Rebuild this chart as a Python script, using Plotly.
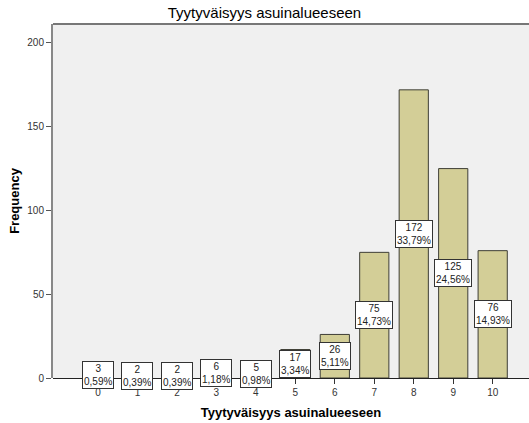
import plotly.graph_objects as go

categories = [0, 1, 2, 3, 4, 5, 6, 7, 8, 9, 10]
counts = [3, 2, 2, 6, 5, 17, 26, 75, 172, 125, 76]
percents = ["0,59%", "0,39%", "0,39%", "1,18%", "0,98%", "3,34%", "5,11%",
            "14,73%", "33,79%", "24,56%", "14,93%"]

fig = go.Figure()

fig.add_trace(go.Bar(
    x=categories,
    y=counts,
    width=0.74,
    marker=dict(color="#D3CE97", line=dict(color="#3e3e36", width=1)),
    hoverinfo="x+y",
))

for c, n, p in zip(categories, counts, percents):
    fig.add_annotation(
        x=c, y=n / 2, text=f"{n}<br>{p}", showarrow=False,
        font=dict(size=10, color="#222222", family="Liberation Sans, Arial"),
        bgcolor="white", bordercolor="#333333", borderwidth=1, borderpad=1,
    )

# top frame line of the plot area
fig.add_shape(type="line", xref="paper", yref="paper", x0=0, x1=1, y0=1, y1=1,
              line=dict(color="#777777", width=2))

fig.update_layout(
    width=529,
    height=423,
    margin=dict(l=53, r=0, t=24, b=45),
    paper_bgcolor="white",
    plot_bgcolor="#F0F0F0",
    showlegend=False,
    font=dict(family="Liberation Sans, Arial", color="#222222"),
    title=dict(text="Tyytyväisyys asuinalueeseen", x=0.5, xanchor="center",
               y=0.982, yanchor="top", font=dict(size=15, color="black")),
    xaxis=dict(
        range=[-1.14, 10.92], tickvals=categories, ticks="outside", ticklen=5,
        tickcolor="#333333", showgrid=False, zeroline=False, showline=False,
        tickfont=dict(size=10, color="#333333"),
        title=dict(text="<b>Tyytyväisyys asuinalueeseen</b>", standoff=10,
                   font=dict(size=13, color="black")),
    ),
    yaxis=dict(
        range=[0, 211.3], tickvals=[0, 50, 100, 150, 200], ticks="outside",
        ticklen=5, tickcolor="#555555", showgrid=False,
        showline=True, linecolor="#888888", linewidth=2,
        zeroline=True, zerolinecolor="#222222", zerolinewidth=1,
        tickfont=dict(size=10, color="#333333"),
        title=dict(text="<b>Frequency</b>", standoff=5,
                   font=dict(size=13, color="black")),
    ),
)

fig.write_html("out.html", config={"displayModeBar": False},
               post_script="document.body.style.margin='0';")
